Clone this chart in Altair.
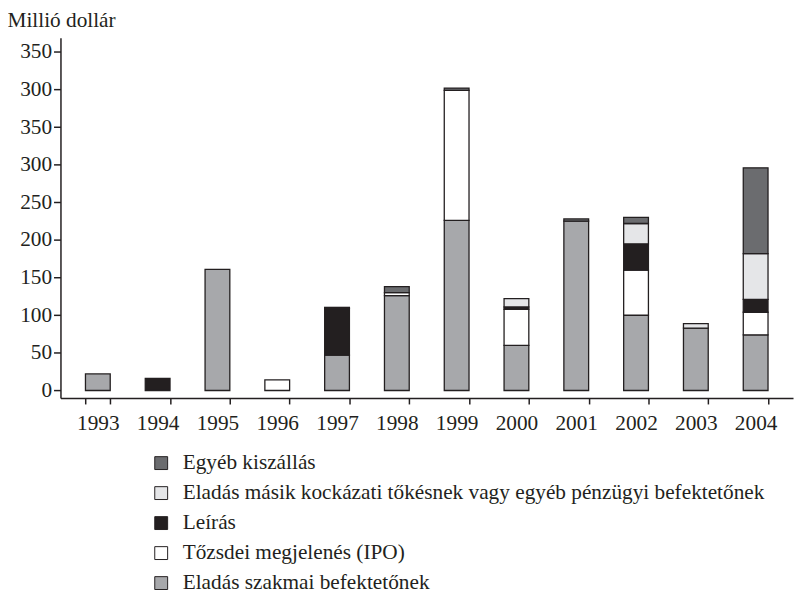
import altair as alt
import pandas as pd

years = ["1993", "1994", "1995", "1996", "1997", "1998", "1999", "2000", "2001", "2002", "2003", "2004"]

# stacking order: bottom -> top
categories = [
    "Eladás szakmai befektetőnek",
    "Tőzsdei megjelenés (IPO)",
    "Leírás",
    "Eladás másik kockázati tőkésnek vagy egyéb pénzügyi befektetőnek",
    "Egyéb kiszállás",
]
colors = ["#a7a8ab", "#ffffff", "#231f20", "#e5e6e8", "#6b6c6f"]

szakmai = [22, 0, 161, 0, 47, 126, 226, 60, 225, 100, 83, 74]
ipo = [0, 0, 0, 14, 0, 4, 173, 48, 0, 60, 0, 30]
leiras = [0, 16, 0, 0, 62, 0, 0, 3, 0, 35, 0, 17]
masik = [0, 0, 0, 0, 0, 0, 0, 11, 0, 27, 6, 61]
egyeb = [0, 0, 0, 0, 1.5, 8, 3, 0, 3, 8, 0, 114]

y_ticks = [0, 50, 100, 150, 200, 250, 300, 350, 400, 450]
y_tick_labels = ["0", "50", "100", "150", "200", "250", "300", "350", "300", "350"]

series = [szakmai, ipo, leiras, masik, egyeb]
rows = []
for k, (cat, vals) in enumerate(zip(categories, series)):
    for yr, v in zip(years, vals):
        if v > 0:
            rows.append({"year": yr, "cat": cat, "value": v, "ord": k})
df = pd.DataFrame(rows)

label_expr = "datum.label"
for v, l in zip(y_ticks, y_tick_labels):
    label_expr = f"datum.value == {v} ? '{l}' : (" + label_expr + ")"

FONT = "Liberation Serif"
INK = "#231f20"
FS = 21.5

legend_domain = list(reversed(categories))
legend_range = list(reversed(colors))

chart = alt.Chart(df).mark_bar(stroke=INK, strokeWidth=1.3).encode(
    x=alt.X(
        "year:N",
        sort=years,
        scale=alt.Scale(paddingInner=0.586, paddingOuter=0.418),
        axis=alt.Axis(
            title=None,
            labelAngle=0,
            tickBand="extent",
            tickSize=6,
            labelPadding=9,
            labelFontSize=FS,
        ),
    ),
    y=alt.Y(
        "value:Q",
        stack="zero",
        scale=alt.Scale(domain=[-10, 469], nice=False, zero=False),
        axis=alt.Axis(
            values=y_ticks,
            labelExpr=label_expr,
            title="Millió dollár",
            titleAngle=0,
            titleX=-54,
            titleY=-11,
            titleAlign="left",
            titleBaseline="alphabetic",
            titleFontSize=FS,
            titleFontWeight="normal",
            tickSize=7,
            labelPadding=2,
            labelFontSize=FS,
            grid=False,
        ),
    ),
    color=alt.Color(
        "cat:N",
        scale=alt.Scale(domain=legend_domain, range=legend_range),
        legend=alt.Legend(
            title=None,
            orient="none",
            legendX=91,
            legendY=419,
            direction="vertical",
            symbolType="square",
            symbolSize=169,
            symbolStrokeColor=INK,
            symbolStrokeWidth=1,
            symbolOpacity=1,
            labelFontSize=FS,
            labelFont=FONT,
            labelColor=INK,
            labelOffset=11,
            labelLimit=800,
            rowPadding=7.3,
            padding=0,
        ),
    ),
    order=alt.Order("ord:Q"),
).properties(
    width=740,
    height=364,
    autosize=alt.AutoSizeParams(type="none"),
    padding={"left": 53, "top": 27, "right": 2, "bottom": 194},
).configure_view(
    stroke=None
).configure_axis(
    labelFont=FONT,
    titleFont=FONT,
    labelColor=INK,
    titleColor=INK,
    domainColor=INK,
    tickColor=INK,
    domainWidth=1.5,
    tickWidth=1.5,
    grid=False,
)

chart.save("out.html", embed_options={"renderer": "svg", "actions": False})
